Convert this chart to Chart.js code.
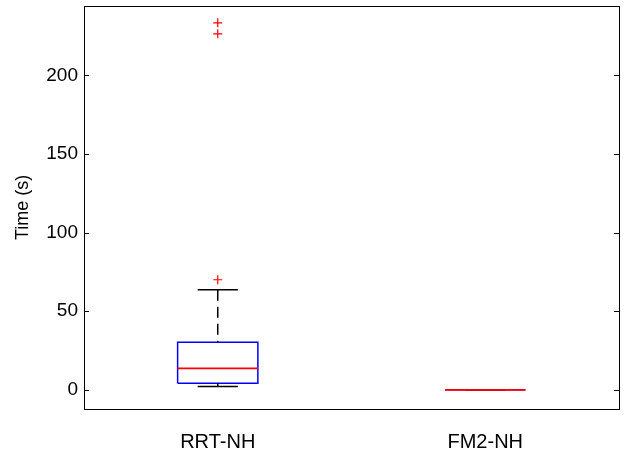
<!DOCTYPE html>
<html>
<head>
<meta charset="utf-8">
<script src="https://cdn.jsdelivr.net/npm/chart.js@4"></script>
<style>
  html, body { margin: 0; padding: 0; background: #fff; }
  #wrap { width: 633px; height: 455px; }
</style>
</head>
<body>
<div id="wrap"><canvas id="boxChart"></canvas></div>
<script>
// box plot values
var categories = ['RRT-NH', 'FM2-NH'];
var q1 = [4.2, 0];
var median = [13.7, 0];
var q3 = [30.2, 0];
var whiskerLow = [2.1, 0];
var whiskerHigh = [63.7, 0];
var outliers = [[70, 226.4, 233.4], []];
var yTicks = [0, 50, 100, 150, 200];

var boxHalf = 0.15;
var capHalf = 0.075;

// build segment lists (null breaks the line)
var boxPts = [], medPts = [], whiskPts = [], capPts = [], outPts = [];
categories.forEach(function (c, i) {
  var x = i + 1;
  boxPts.push({x: x - boxHalf, y: q1[i]}, {x: x + boxHalf, y: q1[i]},
              {x: x + boxHalf, y: q3[i]}, {x: x - boxHalf, y: q3[i]},
              {x: x - boxHalf, y: q1[i]}, {x: x, y: null});
  medPts.push({x: x - boxHalf, y: median[i]}, {x: x + boxHalf, y: median[i]}, {x: x, y: null});
  whiskPts.push({x: x, y: whiskerHigh[i]}, {x: x, y: q3[i]}, {x: x, y: null},
                {x: x, y: whiskerLow[i]}, {x: x, y: q1[i]}, {x: x, y: null});
  capPts.push({x: x - capHalf, y: whiskerHigh[i]}, {x: x + capHalf, y: whiskerHigh[i]}, {x: x, y: null},
              {x: x - capHalf, y: whiskerLow[i]}, {x: x + capHalf, y: whiskerLow[i]}, {x: x, y: null});
  outliers[i].forEach(function (v) { outPts.push({x: x, y: v}); });
});

var frame = {
  id: 'frame',
  afterDraw: function (chart) {
    var a = chart.chartArea, ctx = chart.ctx, ys = chart.scales.y;
    ctx.save();
    ctx.strokeStyle = '#000';
    ctx.lineWidth = 1;
    ctx.strokeRect(Math.round(a.left) + 0.5, Math.round(a.top) + 0.5,
                   Math.round(a.right - a.left), Math.round(a.bottom - a.top));
    yTicks.forEach(function (t) {
      var py = Math.round(ys.getPixelForValue(t)) + 0.5;
      ctx.beginPath();
      ctx.moveTo(a.left, py); ctx.lineTo(a.left + 5, py);
      ctx.moveTo(a.right, py); ctx.lineTo(a.right - 5, py);
      ctx.stroke();
    });
    ctx.restore();
  }
};

var lineSet = function (pts, color, order, dash, w) {
  return {
    data: pts, showLine: true, spanGaps: false, pointRadius: 0, order: order,
    borderColor: color, borderWidth: w || 1.5, borderDash: dash || [], fill: false
  };
};

Chart.defaults.font.family = '"Liberation Sans", Arial, Helvetica, sans-serif';
Chart.defaults.color = '#000';

new Chart(document.getElementById('boxChart'), {
  type: 'scatter',
  data: {
    datasets: [
      lineSet(boxPts, '#0000ff', 5),
      lineSet(whiskPts, '#000000', 4, [11, 6]),
      lineSet(capPts, '#000000', 3),
      lineSet(medPts, '#ff0000', 2, null, 1.8),
      {
        data: outPts, pointStyle: 'cross', pointRadius: 4.5, order: 1,
        borderColor: '#ff0000', borderWidth: 1.2, showLine: false
      }
    ]
  },
  options: {
    responsive: true,
    maintainAspectRatio: false,
    animation: false,
    layout: { padding: { top: 0, right: 14, left: 0, bottom: 0 } },
    plugins: { legend: { display: false }, tooltip: { enabled: false } },
    scales: {
      x: {
        type: 'linear', min: 0.5, max: 2.5,
        afterBuildTicks: function (s) { s.ticks = categories.map(function (c, i) { return {value: i + 1}; }); },
        afterFit: function (s) { s.height = 46; s.paddingLeft = 0; s.paddingRight = 0; },
        ticks: {
          font: { size: 20 }, padding: 21, maxRotation: 0,
          callback: function (v) { return categories[v - 1] || ''; }
        },
        grid: { display: false, drawTicks: false },
        border: { display: false }
      },
      y: {
        type: 'linear', min: -12.2, max: 244.3,
        afterBuildTicks: function (s) { s.ticks = yTicks.map(function (v) { return {value: v}; }); },
        afterFit: function (s) { s.width = 84; s.paddingTop = 0; s.paddingBottom = 0; },
        ticks: { font: { size: 19 }, padding: 6 },
        grid: { display: false, drawTicks: false },
        border: { display: false },
        title: { display: true, text: 'Time (s)', font: { size: 18 }, padding: { top: 12 } }
      }
    }
  },
  plugins: [frame]
});
</script>
</body>
</html>
